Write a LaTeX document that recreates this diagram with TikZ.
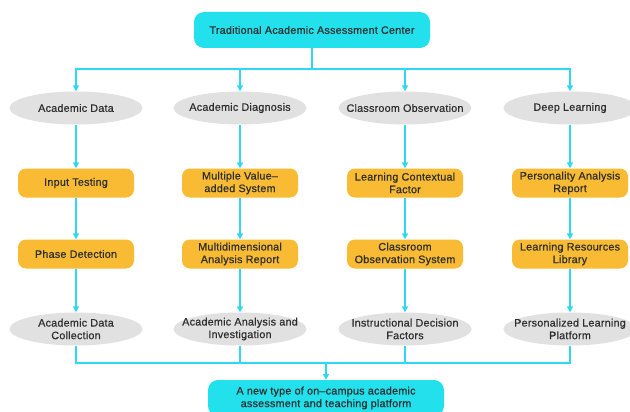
\documentclass[tikz,border=0pt]{standalone}
\usepackage{fontspec}
\setmainfont{Liberation Sans}[UprightFeatures={FakeBold=0.6}, LetterSpace=2]
\usetikzlibrary{arrows.meta,shapes.geometric}
\definecolor{cyanbox}{HTML}{22E0EC}
\definecolor{cyanline}{HTML}{2ED8F2}
\definecolor{orangebox}{HTML}{F8BB33}
\definecolor{greyell}{HTML}{E1E1E1}
\definecolor{txt}{HTML}{2E2E2E}
\tikzset{
  every node/.style={font=\fontsize{10.8}{12.6}\selectfont, text=txt, align=center, inner sep=0pt},
  topbox/.style={fill=cyanbox, rounded corners=10pt, minimum width=236pt, minimum height=36pt},
  ell/.style={ellipse, fill=greyell, minimum width=133pt, minimum height=33pt, inner xsep=-20pt, inner ysep=-6pt},
  obox/.style={fill=orangebox, rounded corners=8pt, minimum width=116pt, minimum height=29pt},
  conn/.style={draw=cyanline, line width=1.6pt},
  arr/.style={conn, -{Triangle[width=6pt,length=6pt]}},
}
\begin{document}
\begin{tikzpicture}[x=1pt,y=-1pt]
\useasboundingbox[fill=white] (0,0) rectangle (630,412);
\node[topbox] (top) at (312,30) {Traditional Academic Assessment Center};
\node[ell] (a1) at (76,108) {Academic Data};
\node[ell] (a2) at (240,108) {Academic Diagnosis};
\node[ell] (a3) at (405,108) {Classroom Observation};
\node[ell] (a4) at (570,108) {Deep Learning};
\node[obox] (b1) at (76,183) {Input Testing};
\node[obox] (b2) at (240,183) {Multiple Value–\\added System};
\node[obox] (b3) at (405,183) {Learning Contextual\\Factor};
\node[obox] (b4) at (570,183) {Personality Analysis\\Report};
\node[obox] (c1) at (76,254) {Phase Detection};
\node[obox] (c2) at (240,254) {Multidimensional\\Analysis Report};
\node[obox] (c3) at (405,254) {Classroom\\Observation System};
\node[obox] (c4) at (570,254) {Learning Resources\\Library};
\node[ell] (d1) at (76,329) {Academic Data\\Collection};
\node[ell] (d2) at (240,329) {Academic Analysis and\\Investigation};
\node[ell] (d3) at (405,329) {Instructional Decision\\Factors};
\node[ell] (d4) at (570,329) {Personalized Learning\\Platform};
\node[topbox] (bot) at (326,398) {A new type of on–campus academic\\assessment and teaching platform};
\coordinate (jt) at (312,69);
\coordinate (jb) at (326,363);
\draw[conn] (top.south) -- (jt);
\foreach \i in {1,2,3,4} {
  \draw[arr] (jt) -| (a\i.north);
  \draw[arr] (a\i.south) -- (b\i.north);
  \draw[arr] (b\i.south) -- (c\i.north);
  \draw[arr] (c\i.south) -- (d\i.north);
  \draw[conn] (d\i.south) |- (jb);
}
\draw[arr] (jb) -- (bot.north);
\end{tikzpicture}
\end{document}
